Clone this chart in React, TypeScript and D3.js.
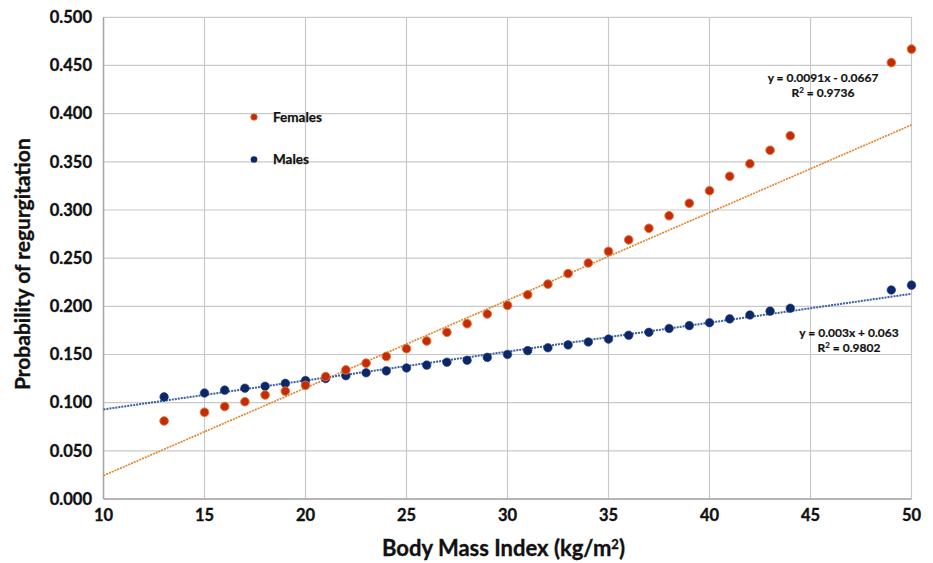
import React from "react"
import { scaleLinear, line, range } from "d3"

// BMI values observed for each sex
const femaleBmi = [13, 15, 16, 17, 18, 19, 20, 21, 22, 23, 24, 25, 26, 27, 28, 29, 30, 31, 32, 33, 34, 35, 36, 37, 38, 39, 40, 41, 42, 43, 44, 49, 50]
const femaleProb = [0.081, 0.090, 0.096, 0.101, 0.108, 0.112, 0.118, 0.127, 0.134, 0.141, 0.148, 0.156, 0.164, 0.173, 0.182, 0.192, 0.201, 0.212, 0.223, 0.234, 0.245, 0.257, 0.269, 0.281, 0.294, 0.307, 0.320, 0.335, 0.348, 0.362, 0.377, 0.453, 0.467]

const maleBmi = [13, 15, 16, 17, 18, 19, 20, 21, 22, 23, 24, 25, 26, 27, 28, 29, 30, 31, 32, 33, 34, 35, 36, 37, 38, 39, 40, 41, 42, 43, 44, 49, 50]
const maleProb = [0.106, 0.110, 0.113, 0.115, 0.117, 0.120, 0.123, 0.125, 0.128, 0.131, 0.133, 0.136, 0.139, 0.142, 0.144, 0.147, 0.150, 0.154, 0.157, 0.160, 0.163, 0.166, 0.170, 0.173, 0.177, 0.180, 0.183, 0.187, 0.191, 0.195, 0.198, 0.217, 0.222]

// linear trendlines as printed on the chart
const femaleFit = { slope: 0.0091, intercept: -0.0667, r2: "0.9736" }
const maleFit = { slope: 0.003, intercept: 0.063, r2: "0.9802" }

const xTicks = [10, 15, 20, 25, 30, 35, 40, 45, 50]
const yTicks = [0, 0.05, 0.1, 0.15, 0.2, 0.25, 0.3, 0.35, 0.4, 0.45, 0.5]

const W = 933
const H = 563
const left = 103.5
const right = 911.5
const top = 17.3
const bottom = 499

const FEMALE = "#c42a0c"
const FEMALE_EDGE = "#e27a2c"
const FEMALE_LINE = "#e0862f"
const MALE = "#0c2766"
const MALE_LINE = "#3b5ea6"
const FONT = "Lato, 'Open Sans', sans-serif"
const INK = "#111"

export default function App() {
  const x = scaleLinear().domain([10, 50]).range([left, right])
  const y = scaleLinear().domain([0, 0.5]).range([bottom, top])

  const fitLine = (f: { slope: number; intercept: number }) =>
    line<number>()
      .x(d => x(d))
      .y(d => y(f.slope * d + f.intercept))([10, 50]) || ""

  const females = range(femaleBmi.length).map(i => [femaleBmi[i], femaleProb[i]])
  const males = range(maleBmi.length).map(i => [maleBmi[i], maleProb[i]])

  // bold text looks heavier in the original, thicken it a touch
  const heavy = { fontWeight: 700, fill: INK, stroke: INK, strokeWidth: 0.35 }

  return (
    <svg width={W} height={H} style={{ position: "absolute", left: 0, top: 0, background: "#fff" }}
      fontFamily={FONT}>
      {/* grid */}
      {yTicks.map(t => (
        <line key={"gy" + t} x1={left} x2={right} y1={y(t)} y2={y(t)} stroke="#c9c9c9" strokeWidth={1.2} />
      ))}
      {xTicks.map(t => (
        <line key={"gx" + t} x1={x(t)} x2={x(t)} y1={top} y2={bottom} stroke="#c9c9c9" strokeWidth={1.2} />
      ))}
      <line x1={left} x2={left} y1={top} y2={bottom} stroke="#a6a6a6" strokeWidth={1.5} />
      <line x1={left} x2={right} y1={bottom} y2={bottom} stroke="#a6a6a6" strokeWidth={1.5} />

      {/* tick labels */}
      {yTicks.map(t => (
        <text key={"ty" + t} x={92} y={y(t)} dy="0.35em" textAnchor="end" fontSize={16.5} {...heavy}>
          {t.toFixed(3)}
        </text>
      ))}
      {xTicks.map(t => (
        <text key={"tx" + t} x={x(t)} y={bottom + 22} textAnchor="middle" fontSize={16.5} {...heavy}>
          {t}
        </text>
      ))}

      {/* axis titles */}
      <text transform={`translate(30,${(top + bottom) / 2 + 6}) rotate(-90)`} textAnchor="middle"
        fontSize={21} {...heavy}>
        Probability of regurgitation
      </text>
      <text x={(left + right) / 2 - 4} y={556} textAnchor="middle" fontSize={22} {...heavy}>
        Body Mass Index (kg/m<tspan dy={-7} fontSize={13}>2</tspan><tspan dy={7}>)</tspan>
      </text>

      {/* trendlines */}
      <path d={fitLine(femaleFit)} fill="none" stroke={FEMALE_LINE} strokeWidth={1.7} strokeDasharray="2 1" />
      <path d={fitLine(maleFit)} fill="none" stroke={MALE_LINE} strokeWidth={2} strokeDasharray="2 1" />

      {/* points */}
      {males.map(d => (
        <circle key={"m" + d[0]} cx={x(d[0])} cy={y(d[1])} r={4.3} fill={MALE} stroke="#27418a" strokeWidth={0.6} />
      ))}
      {females.map(d => (
        <circle key={"f" + d[0]} cx={x(d[0])} cy={y(d[1])} r={4.3} fill={FEMALE} stroke={FEMALE_EDGE} strokeWidth={1} />
      ))}

      {/* legend */}
      <circle cx={254} cy={117} r={3.3} fill={FEMALE} stroke={FEMALE_EDGE} strokeWidth={0.8} />
      <text x={273} y={117} dy="0.35em" fontSize={13.5} {...heavy} strokeWidth={0.25}>Females</text>
      <circle cx={254} cy={159.5} r={3.3} fill={MALE} />
      <text x={273} y={159.5} dy="0.35em" fontSize={13.5} {...heavy} strokeWidth={0.25}>Males</text>

      {/* equations */}
      <text x={823} y={78} dy="0.35em" textAnchor="middle" fontSize={12} {...heavy} strokeWidth={0.2}>
        y = {femaleFit.slope}x - {Math.abs(femaleFit.intercept)}
      </text>
      <text x={823} y={92.5} dy="0.35em" textAnchor="middle" fontSize={12} {...heavy} strokeWidth={0.2}>
        R<tspan dy={-4} fontSize={8}>2</tspan><tspan dy={4}> = {femaleFit.r2}</tspan>
      </text>
      <text x={849} y={333} dy="0.35em" textAnchor="middle" fontSize={12} {...heavy} strokeWidth={0.2}>
        y = {maleFit.slope}x + {maleFit.intercept}
      </text>
      <text x={849} y={348} dy="0.35em" textAnchor="middle" fontSize={12} {...heavy} strokeWidth={0.2}>
        R<tspan dy={-4} fontSize={8}>2</tspan><tspan dy={4}> = {maleFit.r2}</tspan>
      </text>
    </svg>
  )
}
